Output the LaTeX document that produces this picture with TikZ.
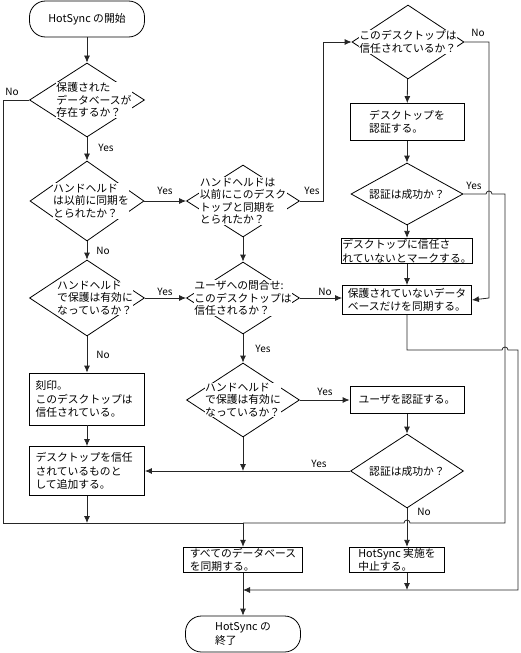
\documentclass[tikz,border=0pt]{standalone}
\usepackage{fontspec}
\setmainfont{Noto Sans CJK JP}
\usetikzlibrary{shapes.geometric,arrows.meta,calc}

\newcommand\boxtext{\fontsize{10.8}{13.5}\selectfont}
\newcommand\dectext{\fontsize{10.8}{12.5}\selectfont}
\newcommand\yntext{\fontsize{10}{12}\selectfont}

\begin{document}
\begin{tikzpicture}[x=1pt,y=-1pt]
% % Chart style
 \tikzset{
 	term/.style={draw, line width=0.8pt, rounded corners=16pt, minimum width=115pt, minimum height=36pt, font=\boxtext, align=left},
 	proc/.style 2 args={draw, line width=0.8pt, minimum width=#1, minimum height=#2, inner xsep=6pt, inner ysep=1pt, font=\boxtext, align=left},
 	dec/.style 2 args={diamond, draw, line width=0.8pt, inner sep=0pt, minimum width=#1, minimum height=#2},
 	txt/.style={fill=white, inner sep=0.5pt, font=\dectext, align=left},
 	yn/.style={font=\yntext, inner sep=0pt},
 	flow/.style={draw=black!85, line width=0.8pt},
 	arr/.style={flow, -{Latex[length=7pt,width=6pt]}}
 }
 \useasboundingbox (0,0) rectangle (520,653);
% % Left column
 \node[term] (start) at (87,19) {HotSync の開始};
 \node[dec={115pt}{74pt}, label={[txt,xshift=7pt]center:{保護された\\データベースが\\存在するか？}}] (dbexist) at (87,100) {};
 \node[dec={114pt}{80pt}, label={[txt,xshift=4pt]center:{ハンドヘルド\\は以前に同期を\\とられたか？}}] (synced) at (87,201) {};
 \node[dec={115pt}{76pt}, label={[txt,xshift=8pt]center:{ハンドヘルド\\で保護は有効に\\なっているか？}}] (prot1) at (87,298) {};
 \node[proc={115pt}{52pt}, text width=103pt] (stamp) at (87,399) {刻印。\\このデスクトップは\\信任されている。};
 \node[proc={115pt}{49pt}, text width=103pt] (addtrust) at (87,471) {デスクトップを信任\\されているものと\\して追加する。};
% % Middle column
 \node[dec={113pt}{72pt}, label={[txt]center:{ハンドヘルドは\\以前にこのデスク\\トップと同期を\\とられたか？}}] (syncedhere) at (243,201) {};
 \node[dec={113pt}{72pt}, label={[txt]center:{ユーザへの問合せ:\\このデスクトップは\\信任されるか？}}] (askuser) at (243,298) {};
 \node[dec={113pt}{74pt}, label={[txt]center:{ハンドヘルド\\で保護は有効に\\なっているか？}}] (prot2) at (243,400) {};
 \node[proc={114pt}{25pt}] (syncall) at (243,560) {すべてのデータベース\\を同期する。};
 \node[term] (finish) at (243,634) {HotSync の\\終了};
% % Right column
 \node[dec={112pt}{74pt}, label={[txt]center:{このデスクトップは\\信任されているか？}}] (trusted) at (408,42) {};
 \node[proc={114pt}{37pt}] (deskauth) at (407,122) {デスクトップを\\認証する。};
 \node[dec={112pt}{62pt}, label={[txt]center:{認証は成功か？}}] (ok1) at (407,194) {};
 \node[proc={128pt}{24pt}, inner xsep=1pt] (mark) at (407,251) {デスクトップに信任さ\\れていないとマークする。};
 \node[proc={129pt}{29pt}, inner xsep=3pt] (unprot) at (407,300) {保護されていないデータ\\ベースだけを同期する。};
 \node[proc={114pt}{27pt}] (userauth) at (407,400) {ユーザを認証する。};
 \node[dec={113pt}{74pt}, label={[txt]center:{認証は成功か？}}] (ok2) at (407,471) {};
 \node[proc={95pt}{25pt}] (abort) at (397,560) {HotSync 実施を\\中止する。};
% % Yes / No
 \node[yn] (n1) at (12,92) {No};
 \node[yn] (y1) at (106,148) {Yes};
 \node[yn] (y2) at (165,191) {Yes};
 \node[yn] (n2) at (103,251) {No};
 \node[yn] (y3) at (312,191) {Yes};
 \node[yn] (n3) at (478,33) {No};
 \node[yn] (y4) at (474,186) {Yes};
 \node[yn] (y5) at (165,292) {Yes};
 \node[yn] (n5) at (103,355) {No};
 \node[yn] (n6) at (325,292) {No};
 \node[yn] (y6) at (263,349) {Yes};
 \node[yn] (y7) at (325,392) {Yes};
 \node[yn] (y8) at (319,464) {Yes};
 \node[yn] (n8) at (424,512) {No};
% % Turning points
 \coordinate (c3) at (323,201);
 \coordinate (c4) at (489,298);
 \coordinate (r1) at (505,194);
 \coordinate (r2) at (505,523);
 \coordinate (jl) at (3,523);
 \coordinate (jm) at (243,523);
 \coordinate (b1) at (518,350);
 \coordinate (jb) at (243,590);
% % Connectors
 \draw[arr] (start) -- (dbexist);
 \draw[arr] (dbexist) -- (synced);
 \draw[arr] (synced) -- (prot1);
 \draw[arr] (prot1) -- (stamp);
 \draw[arr] (stamp) -- (addtrust);
 \draw[arr] (synced) -- (syncedhere);
 \draw[arr] (prot1) -- (askuser);
 \draw[arr] (syncedhere) -- (askuser);
 \draw[arr] (askuser) -- (prot2);
 \draw[arr] (askuser.east) -- (askuser.east -| unprot.west);
 \draw[arr] (prot2) -- (userauth);
 \draw[arr] (userauth) -- (ok2);
 \draw[arr] (ok2.west) -- (addtrust.east);
 \draw[arr] (prot2.south) -- (prot2.south |- ok2.west);
 \draw[arr] (syncedhere.east) -- (c3) |- (trusted.west);
 \draw[arr] (trusted) -- (deskauth);
 \draw[arr] (deskauth) -- (ok1);
 \draw[arr] (ok1) -- (mark);
 \draw[arr] (mark) -- (unprot);
 \draw[arr] (trusted.east) -| (c4) -- (unprot.east);
 % merge line with jumps
 \draw[flow] (dbexist.west) -| (jl) -- (jm);
 \draw[flow] (ok1.east) -- ($(c4 |- ok1.east)+(-3,0)$) arc[start angle=180,end angle=0,radius=3pt] -- (r1) -- (r2)
   -- ($(ok2.south |- r2)+(3,0)$) arc[start angle=0,end angle=180,radius=3pt] -- (jm);
 \draw[arr] (addtrust) -- (addtrust |- jl);
 \draw[arr] (jm) -- (syncall);
 \draw[arr] (ok2.south) -- (ok2.south |- abort.north);
 \draw[arr] (unprot.south) |- ($(r1 |- b1)+(-3,0)$) arc[start angle=180,end angle=0,radius=3pt] -- (b1) |- (jb);
 \draw[arr] (ok2.south |- abort.south) -- (ok2.south |- jb);
 \draw[arr] (syncall) -- (finish);
\end{tikzpicture}
\end{document}
